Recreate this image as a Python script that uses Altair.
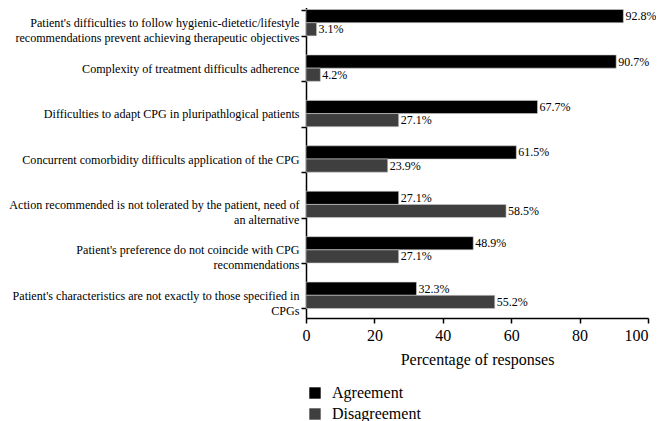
import altair as alt
import pandas as pd

categories = [
    "Patient's difficulties to follow hygienic-dietetic/lifestyle|recommendations prevent achieving therapeutic objectives",
    "Complexity of treatment difficults adherence",
    "Difficulties to adapt CPG in pluripathlogical patients",
    "Concurrent comorbidity difficults application of the CPG",
    "Action recommended is not tolerated by the patient, need of|an alternative",
    "Patient's preference do not coincide with CPG|recommendations",
    "Patient's characteristics are not exactly to those specified in|CPGs",
]
agreement = [92.8, 90.7, 67.7, 61.5, 27.1, 48.9, 32.3]
disagreement = [3.1, 4.2, 27.1, 23.9, 58.5, 27.1, 55.2]
series = ["Agreement", "Disagreement"]
colors = ["#000000", "#3f3f3f"]
x_ticks = [0, 20, 40, 60, 80, 100]

rows = []
for c, a, d in zip(categories, agreement, disagreement):
    rows.append({"cat": c, "series": series[0], "value": a})
    rows.append({"cat": c, "series": series[1], "value": d})
df = pd.DataFrame(rows)
df["label"] = df["value"].map(lambda v: f"{v:.1f}%")

FONT = "Liberation Serif"

y_enc = alt.Y(
    "cat:N",
    sort=categories,
    scale=alt.Scale(paddingInner=0.42, paddingOuter=0.21),
    axis=alt.Axis(
        title=None,
        labelExpr="split(datum.label, '|')",
        labelFont=FONT,
        labelFontSize=12.1,
        labelLineHeight=15,
        labelColor="#000",
        labelLimit=400,
        labelPadding=2,
        tickBand="extent",
        tickSize=5,
        tickColor="#000",
        domainColor="#000",
        domainWidth=1.5,
        tickWidth=1.5,
        labelAlign="right",
        labelBaseline="middle",
    ),
)
yoff = alt.YOffset("series:N", sort=series, scale=alt.Scale(paddingInner=0, paddingOuter=0))
x_enc = alt.X(
    "value:Q",
    scale=alt.Scale(domain=[0, 100], nice=False),
    axis=alt.Axis(
        title="Percentage of responses",
        values=x_ticks,
        grid=False,
        labelFont=FONT,
        labelFontSize=16,
        labelColor="#000",
        labelAlign=alt.condition("datum.value == 100", alt.value("right"), alt.value("center")),
        titleFont=FONT,
        titleFontSize=16,
        titleFontWeight="normal",
        titleColor="#000",
        titlePadding=8,
        tickSize=5,
        tickColor="#000",
        tickWidth=1.5,
        domainColor="#000",
        domainWidth=1.5,
        labelPadding=4,
    ),
)

bars = alt.Chart(df).mark_bar(stroke="#cfcfcf", strokeWidth=0.6).encode(
    y=y_enc,
    yOffset=yoff,
    x=x_enc,
    color=alt.Color(
        "series:N",
        sort=series,
        scale=alt.Scale(domain=series, range=colors),
        legend=alt.Legend(
            title=None,
            orient="none",
            legendX=1,
            legendY=385,
            symbolType="square",
            symbolSize=130,
            symbolStrokeWidth=0,
            labelFont=FONT,
            labelFontSize=16,
            labelColor="#000",
            rowPadding=5,
            labelOffset=9,
        ),
    ),
)

text = alt.Chart(df).mark_text(
    align="left", baseline="middle", dx=2, font=FONT, fontSize=12, color="#000"
).encode(
    y=alt.Y("cat:N", sort=categories),
    yOffset=yoff,
    x="value:Q",
    text="label:N",
)

chart = (
    alt.layer(bars, text)
    .properties(
        width=342,
        height=318,
        autosize=alt.AutoSizeParams(type="none"),
        padding={"left": 298, "top": -8, "right": 8, "bottom": 103},
    )
    .configure_view(stroke=None)
)

chart.save("out.html", embed_options={"renderer": "svg", "actions": False})
